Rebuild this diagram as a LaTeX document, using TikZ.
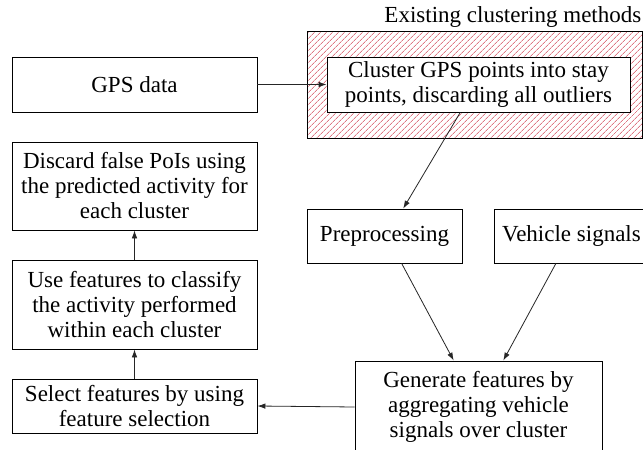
\documentclass[tikz,border=0pt]{standalone}
\usepackage{fontspec}
\setmainfont{Liberation Serif}
\usetikzlibrary{arrows.meta,patterns.meta,calc}
\definecolor{hatchred}{RGB}{205,45,65}
\begin{document}
\begin{tikzpicture}[x=1pt,y=-1pt,
  box/.style={draw=black,line width=0.8pt,fill=white,inner sep=0pt,align=center,
    font=\fontsize{23}{25}\selectfont},
  conn/.style={draw=black!85,line width=0.8pt,-{Latex[length=8pt,width=5.5pt]}},
  hatchbox/.style={draw=black,line width=0.8pt,inner sep=0pt,
    pattern={Lines[angle=45,distance=4pt,line width=0.6pt]},pattern color=hatchred}]
\useasboundingbox (0,0) rectangle (643,450);
\fill[white] (0,0) rectangle (643,450);

% hatched region of existing methods
\node[hatchbox,minimum width=335pt,minimum height=107pt] (hat) at (474.5,84.5) {};
\node[inner sep=0pt,anchor=base east,font=\fontsize{23}{25}\selectfont] (lab) at (641.5,22) {Existing clustering methods};

% boxes
\node[box,minimum width=245pt,minimum height=55pt] (gps) at (134.5,84.5) {GPS data};
\node[box,minimum width=303pt,minimum height=55pt] (clu) at (478.5,84.5) {Cluster GPS points into stay\\points, discarding all outliers};
\node[box,minimum width=245pt,minimum height=88pt] (disc) at (134.5,186) {Discard false PoIs using\\the predicted activity for\\each cluster};
\node[box,minimum width=245pt,minimum height=89pt] (use) at (134.5,304.5) {Use features to classify\\the activity performed\\within each cluster};
\node[box,minimum width=245pt,minimum height=54pt] (sel) at (134.5,406) {Select features by using\\feature selection};
\node[box,minimum width=155pt,minimum height=54pt] (pre) at (384.5,236) {Preprocessing};
\node[box,minimum width=155pt,minimum height=54pt] (veh) at (571.5,236) {Vehicle signals};
\node[box,minimum width=247pt,minimum height=92pt] (gen) at (478.5,407) {Generate features by\\aggregating vehicle\\signals over cluster};

% connectors
\draw[conn] (gps.east) -- (clu.west);
\draw[conn] ($(clu.south west)!0.44!(clu.south east)$) -- ($(pre.north west)!0.62!(pre.north east)$);
\draw[conn] ($(pre.south west)!0.61!(pre.south east)$) -- ($(gen.north west)!0.40!(gen.north east)$);
\draw[conn] ($(veh.south west)!0.40!(veh.south east)$) -- ($(gen.north west)!0.60!(gen.north east)$);
\draw[conn] (gen.west) -- (sel.east);
\draw[conn] (sel.north) -- (use.south);
\draw[conn] (use.north) -- (disc.south);
\end{tikzpicture}
\end{document}
